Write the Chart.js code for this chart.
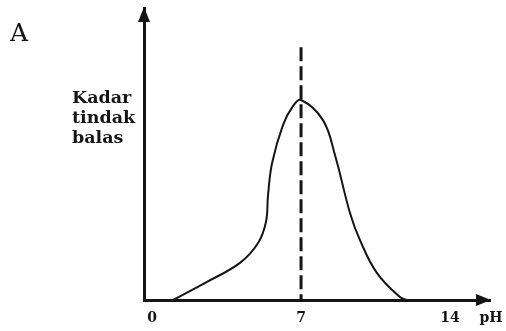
<!DOCTYPE html>
<html lang="ms">
<head>
    <meta charset="UTF-8">
    <title>Kadar tindak balas lawan pH</title>
    <script src="https://cdn.jsdelivr.net/npm/chart.js"></script>
    <style>
        html, body { margin: 0; padding: 0; background: #fff; }
        #wrap { width: 506px; height: 331px; position: relative; }
    </style>
</head>
<body>
    <div id="wrap"><canvas id="myChart"></canvas></div>
    <script>
        // curve (rate in arbitrary units 0-100)
        const phValues   = [0.99, 2.58, 4.13, 4.98, 5.35, 5.45, 5.64, 6.15, 6.62, 7.0, 8.03, 8.60, 9.30, 9.77, 10.57, 11.65, 11.98];
        const rateValues = [0, 6.2, 12.7, 19.5, 26.7, 36.0, 46.9, 59.9, 66.4, 68.5, 61.6, 49.5, 29.8, 20.5, 9.2, 1.0, 0];

        // dashed optimum line
        const optimumPh   = [7, 7];
        const optimumRate = [86.6, 0];

        const tickValues = [0, 7, 14];
        const panelLabel = 'A';
        const yLabelLines = ['Kadar', 'tindak', 'balas'];
        const xLabel = 'pH';

        const ink = '#151515';

        const curveData = phValues.map((x, i) => ({ x: x, y: rateValues[i] }));
        const optimumData = optimumPh.map((x, i) => ({ x: x, y: optimumRate[i] }));

        // arrows and loose text
        const decorations = {
            id: 'decorations',
            afterDraw(chart) {
                const c = chart.ctx;
                const a = chart.chartArea;
                c.save();
                c.fillStyle = ink;
                // y arrow
                c.beginPath();
                c.moveTo(a.left, a.top - 1);
                c.lineTo(a.left - 6, a.top + 14);
                c.lineTo(a.left + 6, a.top + 14);
                c.closePath();
                c.fill();
                // x arrow
                c.beginPath();
                c.moveTo(a.right + 1, a.bottom);
                c.lineTo(a.right - 14, a.bottom - 6);
                c.lineTo(a.right - 14, a.bottom + 6);
                c.closePath();
                c.fill();

                c.font = 'bold 17.5px "DejaVu Serif"';
                c.textAlign = 'left';
                c.textBaseline = 'alphabetic';
                yLabelLines.forEach((t, i) => c.fillText(t, 72, 103 + i * 20));

                c.font = 'bold 14px "DejaVu Serif"';
                c.textAlign = 'center';
                c.textBaseline = 'middle';
                c.fillText(xLabel, a.right + 1, 318);

                c.font = '25px "DejaVu Serif"';
                c.fillText(panelLabel, 19, 34);
                c.restore();
            }
        };

        const ctx = document.getElementById('myChart').getContext('2d');
        const myChart = new Chart(ctx, {
            type: 'line',
            data: {
                datasets: [
                    {
                        data: curveData,
                        borderColor: ink,
                        borderWidth: 2,
                        pointRadius: 0,
                        tension: 0.4,
                        fill: false
                    },
                    {
                        data: optimumData,
                        borderColor: ink,
                        borderWidth: 3,
                        borderDash: [14, 5],
                        pointRadius: 0,
                        fill: false
                    }
                ]
            },
            options: {
                responsive: true,
                maintainAspectRatio: false,
                animation: false,
                layout: { padding: { left: 144, right: 16, top: 8, bottom: 0 } },
                plugins: {
                    legend: { display: false },
                    tooltip: { enabled: false }
                },
                scales: {
                    x: {
                        type: 'linear',
                        min: -0.38,
                        max: 15.88,
                        grid: { display: false, drawTicks: false },
                        border: { display: true, color: ink, width: 3 },
                        afterBuildTicks: (scale) => {
                            scale.ticks = tickValues.map(v => ({ value: v }));
                        },
                        afterFit: (scale) => { scale.height = 31; },
                        ticks: {
                            color: ink,
                            padding: 10,
                            maxRotation: 0,
                            autoSkip: false,
                            font: { family: '"DejaVu Serif"', size: 14, weight: 'bold' },
                            callback: (v) => String(v)
                        }
                    },
                    y: {
                        type: 'linear',
                        min: 0,
                        max: 100,
                        grid: { display: false, drawTicks: false },
                        border: { display: true, color: ink, width: 3 },
                        ticks: { display: false },
                        afterFit: (scale) => { scale.width = 0; }
                    }
                }
            },
            plugins: [decorations]
        });
    </script>
</body>
</html>
